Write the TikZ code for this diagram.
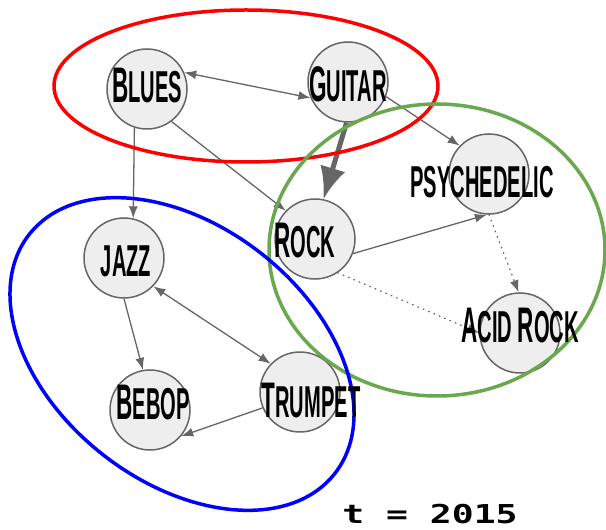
\documentclass[tikz,border=0pt]{standalone}
\usepackage{fontspec}
\usetikzlibrary{arrows.meta}
\newfontfamily\amfont[FakeStretch=0.45]{Liberation Sans Bold}
\newfontfamily\yearfont[FakeStretch=1.4]{DejaVu Sans Mono Bold}
\newcommand\gcap[1]{{\fontsize{50bp}{50bp}\selectfont #1}}
\newcommand\gsc[1]{{\fontsize{44.7bp}{44.7bp}\selectfont #1}}
\definecolor{nodefill}{HTML}{EEEEEE}
\definecolor{nodeline}{HTML}{666666}
\definecolor{edgecol}{HTML}{666666}
\definecolor{clusterred}{HTML}{FF0000}
\definecolor{clustergreen}{HTML}{6AA84F}
\definecolor{clusterblue}{HTML}{0000FF}
\begin{document}
\begin{tikzpicture}[>={Latex[length=12bp,width=9bp]},line join=bevel,
  gnode/.style={circle,draw=nodeline,fill=nodefill,line width=1.5bp,minimum size=80bp,inner sep=0pt},
  gtext/.style={anchor=base,inner sep=0pt,font=\amfont},
  gedge/.style={draw=edgecol,line width=1.3bp},
  gweak/.style={gedge,line cap=round,dash pattern=on 0.8bp off 5bp},
  gstrong/.style={draw=edgecol,line width=5bp,-{Latex[length=32bp,width=26bp]}},
  cluster/.style={line width=3.5bp},
]
%%
\useasboundingbox (0bp,0bp) rectangle (606bp,530bp);
\begin{scope}
  \definecolor{strokecol}{rgb}{1.0,1.0,1.0};
  \pgfsetstrokecolor{strokecol}
  \definecolor{fillcol}{rgb}{1.0,1.0,1.0};
  \pgfsetfillcolor{fillcol}
  \filldraw (0bp,0bp) -- (0bp,530bp) -- (606bp,530bp) -- (606bp,0bp) -- cycle;
\end{scope}
  \node (blues) at (147bp,441bp) [gnode] {};
  \node (guitar) at (348bp,448bp) [gnode] {};
  \node (psych) at (489bp,356bp) [gnode] {};
  \node (rock) at (315bp,291bp) [gnode] {};
  \node (jazz) at (124bp,272bp) [gnode] {};
  \node (acid) at (520bp,197bp) [gnode] {};
  \node (bebop) at (150bp,120bp) [gnode] {};
  \node (trumpet) at (300bp,138bp) [gnode] {};
%
  \draw [gedge,<->] (blues.24) -- (guitar.203);
  \draw [gedge,->] (blues.-108) -- (jazz.77);
  \draw [gedge,->] (blues.-53) -- (rock.136);
  \draw [gstrong] (guitar.-92) -- (rock.78);
  \draw [gedge,->] (guitar.-21) -- (psych.136);
  \draw [gedge,->] (rock.-21) -- (psych.-93);
  \draw [gweak,->] (psych.-90) -- (acid.92);
  \draw [gweak,->] (rock.-56) -- (acid.180);
  \draw [gedge,<->] (jazz.-44) -- (trumpet.136);
  \draw [gedge,->] (jazz.-90) -- (bebop.100);
  \draw [gedge,->] (trumpet.203) -- (bebop.-40);
%
  \draw [cluster,clusterred] (246bp,444bp) ellipse (192bp and 76bp);
  \draw [cluster,clustergreen] (437bp,280bp) ellipse (168bp and 146bp);
  \draw [cluster,clusterblue,rotate around={-38:(182bp,176bp)}] (182bp,176bp) ellipse (194bp and 128bp);
%
  \node (blues label) at (147bp,427bp) [gtext] {\gcap{B}\gsc{LUES}};
  \node (guitar label) at (348bp,428bp) [gtext] {\gcap{G}\gsc{UITAR}};
  \node (psych label) at (482bp,332bp) [gtext] {\gsc{PSYCHEDELIC}};
  \node (rock label) at (305bp,272bp) [gtext] {\gcap{R}\gsc{OCK}};
  \node (jazz label) at (126bp,253bp) [gtext] {\gsc{JAZZ}};
  \node (acid label) at (520bp,187bp) [gtext] {\gcap{A}\gsc{CID }\gcap{R}\gsc{OCK}};
  \node (bebop label) at (153bp,110bp) [gtext] {\gcap{B}\gsc{EBOP}};
  \node (trumpet label) at (311bp,112bp) [gtext] {\gcap{T}\gsc{RUMPET}};
  \node (year) at (430bp,7bp) [anchor=base,inner sep=0pt,font=\yearfont\fontsize{26bp}{26bp}\selectfont] {t = 2015};
%
\end{tikzpicture}
\end{document}
